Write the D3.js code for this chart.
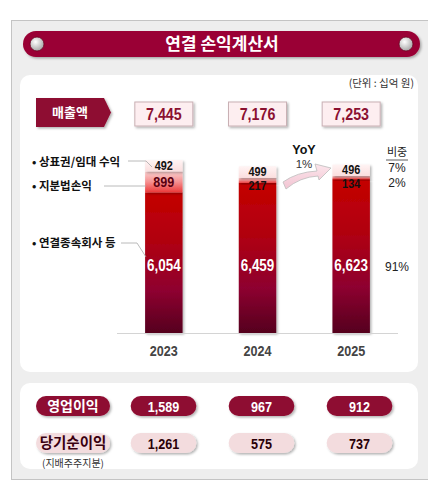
<!DOCTYPE html>
<html>
<head>
<meta charset="utf-8">
<script src="https://cdn.jsdelivr.net/npm/d3@7"></script>
<style>
  body { margin: 0; background: #fff; }
  svg text { font-family: "Liberation Sans", Arial, sans-serif; }
  .kr { font-family: "Noto Sans CJK KR", sans-serif; }
</style>
</head>
<body>
<div id="chart"></div>
<script>
// data
var years = ["2023", "2024", "2025"];
var revenue = [7445, 7176, 7253];
var royalty = [492, 499, 496];        // 상표권/임대 수익
var equityGain = [899, 217, 134];     // 지분법손익
var subsidiaries = [6054, 6459, 6623]; // 연결종속회사 등
var operatingProfit = [1589, 967, 912];
var netIncome = [1261, 575, 737];
var shareLabels = ["7%", "2%", "91%"];
var yoyLabel = "1%";
var seriesNames = ["상표권/임대 수익", "지분법손익", "연결종속회사 등"];

var width = 428, height = 500;
var fmt = d3.format(",");

var svg = d3.select("#chart").append("svg")
    .attr("width", width)
    .attr("height", height);

var defs = svg.append("defs");

// shadow filter
var f = defs.append("filter").attr("id", "shadow").attr("x", "-20%").attr("y", "-20%").attr("width", "150%").attr("height", "160%");
f.append("feDropShadow").attr("dx", 1.5).attr("dy", 1.5).attr("stdDeviation", 1.2)
  .attr("flood-color", "#000").attr("flood-opacity", 0.3);

function vGrad(id, stops) {
  var g = defs.append("linearGradient").attr("id", id)
    .attr("x1", 0).attr("y1", 0).attr("x2", 0).attr("y2", 1);
  stops.forEach(function(s) {
    g.append("stop").attr("offset", s[0]).attr("stop-color", s[1]);
  });
}
vGrad("gSub", [[0, "#c40000"], [0.35, "#b00010"], [0.7, "#8e0030"], [1, "#55001e"]]);
vGrad("gEq", [[0, "#fbd0d0"], [0.5, "#f59090"], [1, "#ec3a3a"]]);
vGrad("gRoy", [[0, "#fff4f4"], [1, "#fbdede"]]);
vGrad("gArrow", [[0, "#fce6ec"], [1, "#f2c4d2"]]);

var rg = defs.append("radialGradient").attr("id", "gKnob").attr("cx", "40%").attr("cy", "35%").attr("r", "65%");
rg.append("stop").attr("offset", 0).attr("stop-color", "#ffffff");
rg.append("stop").attr("offset", 1).attr("stop-color", "#a8a8a8");

// narrow text (stand-in for a condensed face)
function ntext(parent, tx, ty, str, size, color, weight) {
  return parent.append("text")
    .attr("transform", "translate(" + tx + "," + ty + ") scale(0.84,1)")
    .attr("text-anchor", "middle")
    .attr("font-size", size)
    .attr("font-weight", weight || "bold")
    .attr("fill", color)
    .text(str);
}

// outer frame
svg.append("rect")
  .attr("x", 11.5).attr("y", 20.5).attr("width", 430).attr("height", 459)
  .attr("fill", "#eeeeee").attr("stroke", "#c4c4c4");

// title banner
svg.append("rect")
  .attr("x", 23).attr("y", 31).attr("width", 397).attr("height", 26).attr("rx", 13)
  .attr("fill", "#9a0034").attr("filter", "url(#shadow)");
[37, 406].forEach(function(cx) {
  svg.append("circle").attr("cx", cx).attr("cy", 44).attr("r", 7)
    .attr("fill", "url(#gKnob)").attr("stroke", "#6a0020").attr("stroke-width", 0.8);
});
svg.append("text").attr("class", "kr")
  .attr("x", 222).attr("y", 50).attr("text-anchor", "middle")
  .attr("fill", "#fff").attr("font-size", 17).attr("font-weight", "bold")
  .text("연결 손익계산서");

// panels
svg.append("rect").attr("x", 20).attr("y", 75).attr("width", 398).attr("height", 297).attr("rx", 10)
  .attr("fill", "#fff");
svg.append("rect").attr("x", 20).attr("y", 383).attr("width", 398).attr("height", 86).attr("rx", 10)
  .attr("fill", "#fff");

svg.append("text").attr("class", "kr")
  .attr("x", 414).attr("y", 87).attr("text-anchor", "end")
  .attr("fill", "#333").attr("font-size", 10.5)
  .text("(단위 : 십억 원)");

// scales
var x = d3.scaleBand().domain(years).range([117, 398]).paddingInner(0.6).paddingOuter(0.3);
var total = revenue[0];
var y = d3.scaleLinear().domain([0, total]).range([333, 160]);
var xPill = d3.scaleBand().domain(years).range([115, 408]).paddingInner(0.33).paddingOuter(0.16);
var cx = function(d) { return x(d) + x.bandwidth() / 2; };

// revenue row
svg.append("path")
  .attr("d", "M36,98 L104,98 L111,112.5 L104,127 L36,127 Z")
  .attr("fill", "#8e0a30").attr("filter", "url(#shadow)");
svg.append("text").attr("class", "kr")
  .attr("x", 70).attr("y", 117).attr("text-anchor", "middle")
  .attr("fill", "#fff").attr("font-size", 13).attr("font-weight", "bold")
  .text("매출액");

years.forEach(function(yr, i) {
  svg.append("rect")
    .attr("x", cx(yr) - 29).attr("y", 102).attr("width", 58).attr("height", 24)
    .attr("fill", "#fdeef0").attr("stroke", "#c9b0b4").attr("filter", "url(#shadow)");
  ntext(svg, cx(yr), 120, fmt(revenue[i]), 17, "#8b1030");
});

// stacked bars
var rows = years.map(function(yr, i) {
  return { year: yr, vals: [subsidiaries[i], equityGain[i], royalty[i]] };
});
var stack = d3.stack().keys([0, 1, 2]).value(function(d, k) { return d.vals[k]; });
var series = stack(rows);
var fills = ["url(#gSub)", "url(#gEq)", "url(#gRoy)"];

var layers = svg.selectAll(".layer").data(series).enter().append("g")
  .attr("class", "layer");
layers.selectAll("rect").data(function(d) { return d; }).enter().append("rect")
  .attr("x", function(d) { return x(d.data.year); })
  .attr("y", function(d) { return y(d[1]); })
  .attr("width", x.bandwidth())
  .attr("height", function(d) { return y(d[0]) - y(d[1]); })
  .attr("fill", function() { return fills[d3.select(this.parentNode).datum().key]; })
  .attr("filter", "url(#shadow)");

// value labels
var subY = y(total * 0.39) + 5;
rows.forEach(function(r, i) {
  var top = y(series[2][i][1]);
  var royY = top + 10;
  var eqMid = (y(series[1][i][0]) + y(series[1][i][1])) / 2 + 5;
  var eqY = Math.max(eqMid, royY + 14);
  ntext(svg, cx(r.year), royY, fmt(royalty[i]), 13, "#111");
  ntext(svg, cx(r.year), eqY, fmt(equityGain[i]), i === 0 ? 15 : 13, i === 0 ? "#5a0010" : "#111");
  ntext(svg, cx(r.year), subY, fmt(subsidiaries[i]), 16, "#fff");
});

// axis baseline and year labels
svg.append("line").attr("x1", 117).attr("x2", 398).attr("y1", 333.5).attr("y2", 333.5)
  .attr("stroke", "#d4d4d4");
var xAxis = svg.append("g").attr("transform", "translate(0,333)")
  .call(d3.axisBottom(x).tickSize(0).tickPadding(12));
xAxis.select(".domain").remove();
xAxis.selectAll("text").attr("font-size", 15).attr("font-weight", "bold").attr("fill", "#444")
  .attr("font-family", "Liberation Sans, sans-serif")
  .attr("transform", "scale(0.84,1)");

// series labels on the left with leader lines
var leftLabels = [
  { name: seriesNames[0], ty: 166, pts: [[128, 161], [146, 161], [152, 167]] },
  { name: seriesNames[1], ty: 190, pts: [[104, 186], [146, 186]] },
  { name: seriesNames[2], ty: 247, pts: [[121, 243], [137, 243], [146, 257]] }
];
leftLabels.forEach(function(l) {
  svg.append("text").attr("class", "kr")
    .attr("x", 32).attr("y", l.ty)
    .attr("font-size", 11.5).attr("font-weight", "bold").attr("fill", "#111")
    .text("• " + l.name);
  svg.append("path").attr("d", d3.line()(l.pts))
    .attr("fill", "none").attr("stroke", "#a8a8a8").attr("stroke-width", 0.8);
});

// share column
svg.append("text").attr("class", "kr")
  .attr("x", 397).attr("y", 156).attr("text-anchor", "middle")
  .attr("font-size", 11).attr("fill", "#222").text("비중");
svg.append("line").attr("x1", 386).attr("x2", 408).attr("y1", 160).attr("y2", 160)
  .attr("stroke", "#333").attr("stroke-width", 0.8);
var shareY = [172, 187, subY];
shareLabels.forEach(function(s, j) {
  svg.append("text")
    .attr("x", 397).attr("y", shareY[j]).attr("text-anchor", "middle")
    .attr("font-size", 12).attr("fill", "#222")
    .text(s);
});

// YoY annotation
svg.append("text").attr("x", 304).attr("y", 154).attr("text-anchor", "middle")
  .attr("font-size", 12.5).attr("font-weight", "bold").attr("fill", "#111").text("YoY");
svg.append("text").attr("x", 304).attr("y", 168).attr("text-anchor", "middle")
  .attr("font-size", 11.5).attr("fill", "#333").text(yoyLabel);
svg.append("path")
  .attr("d", "M283,182 Q297,172 317,171 L315,164 L331,168 L319,180 L318,176 Q300,177 286,189 Z")
  .attr("fill", "url(#gArrow)").attr("stroke", "#bcbcbc").attr("stroke-width", 0.8);

// profit rows
function pill(cxp, cy, w, fill) {
  svg.append("rect").attr("x", cxp - w / 2).attr("y", cy - 10).attr("width", w).attr("height", 20)
    .attr("rx", 10).attr("fill", fill).attr("filter", "url(#shadow)");
}
pill(73, 406, 74, "#8e0a30");
svg.append("text").attr("class", "kr").attr("x", 73).attr("y", 411).attr("text-anchor", "middle")
  .attr("font-size", 14).attr("font-weight", "bold").attr("fill", "#fff").text("영업이익");
pill(73, 443, 74, "#f3dcde");
svg.append("text").attr("class", "kr").attr("x", 73).attr("y", 448).attr("text-anchor", "middle")
  .attr("font-size", 14.5).attr("font-weight", "bold").attr("fill", "#3a0010").text("당기순이익");
svg.append("text").attr("class", "kr").attr("x", 42).attr("y", 467)
  .attr("font-size", 10).attr("fill", "#333").text("(지배주주지분)");

years.forEach(function(yr, i) {
  var c = xPill(yr) + xPill.bandwidth() / 2;
  pill(c, 406, xPill.bandwidth(), "#8e0a30");
  ntext(svg, c, 411.5, fmt(operatingProfit[i]), 15, "#fff");
  pill(c, 443, xPill.bandwidth(), "#f3dcde");
  ntext(svg, c, 448.5, fmt(netIncome[i]), 15, "#2a0008");
});
</script>
</body>
</html>
